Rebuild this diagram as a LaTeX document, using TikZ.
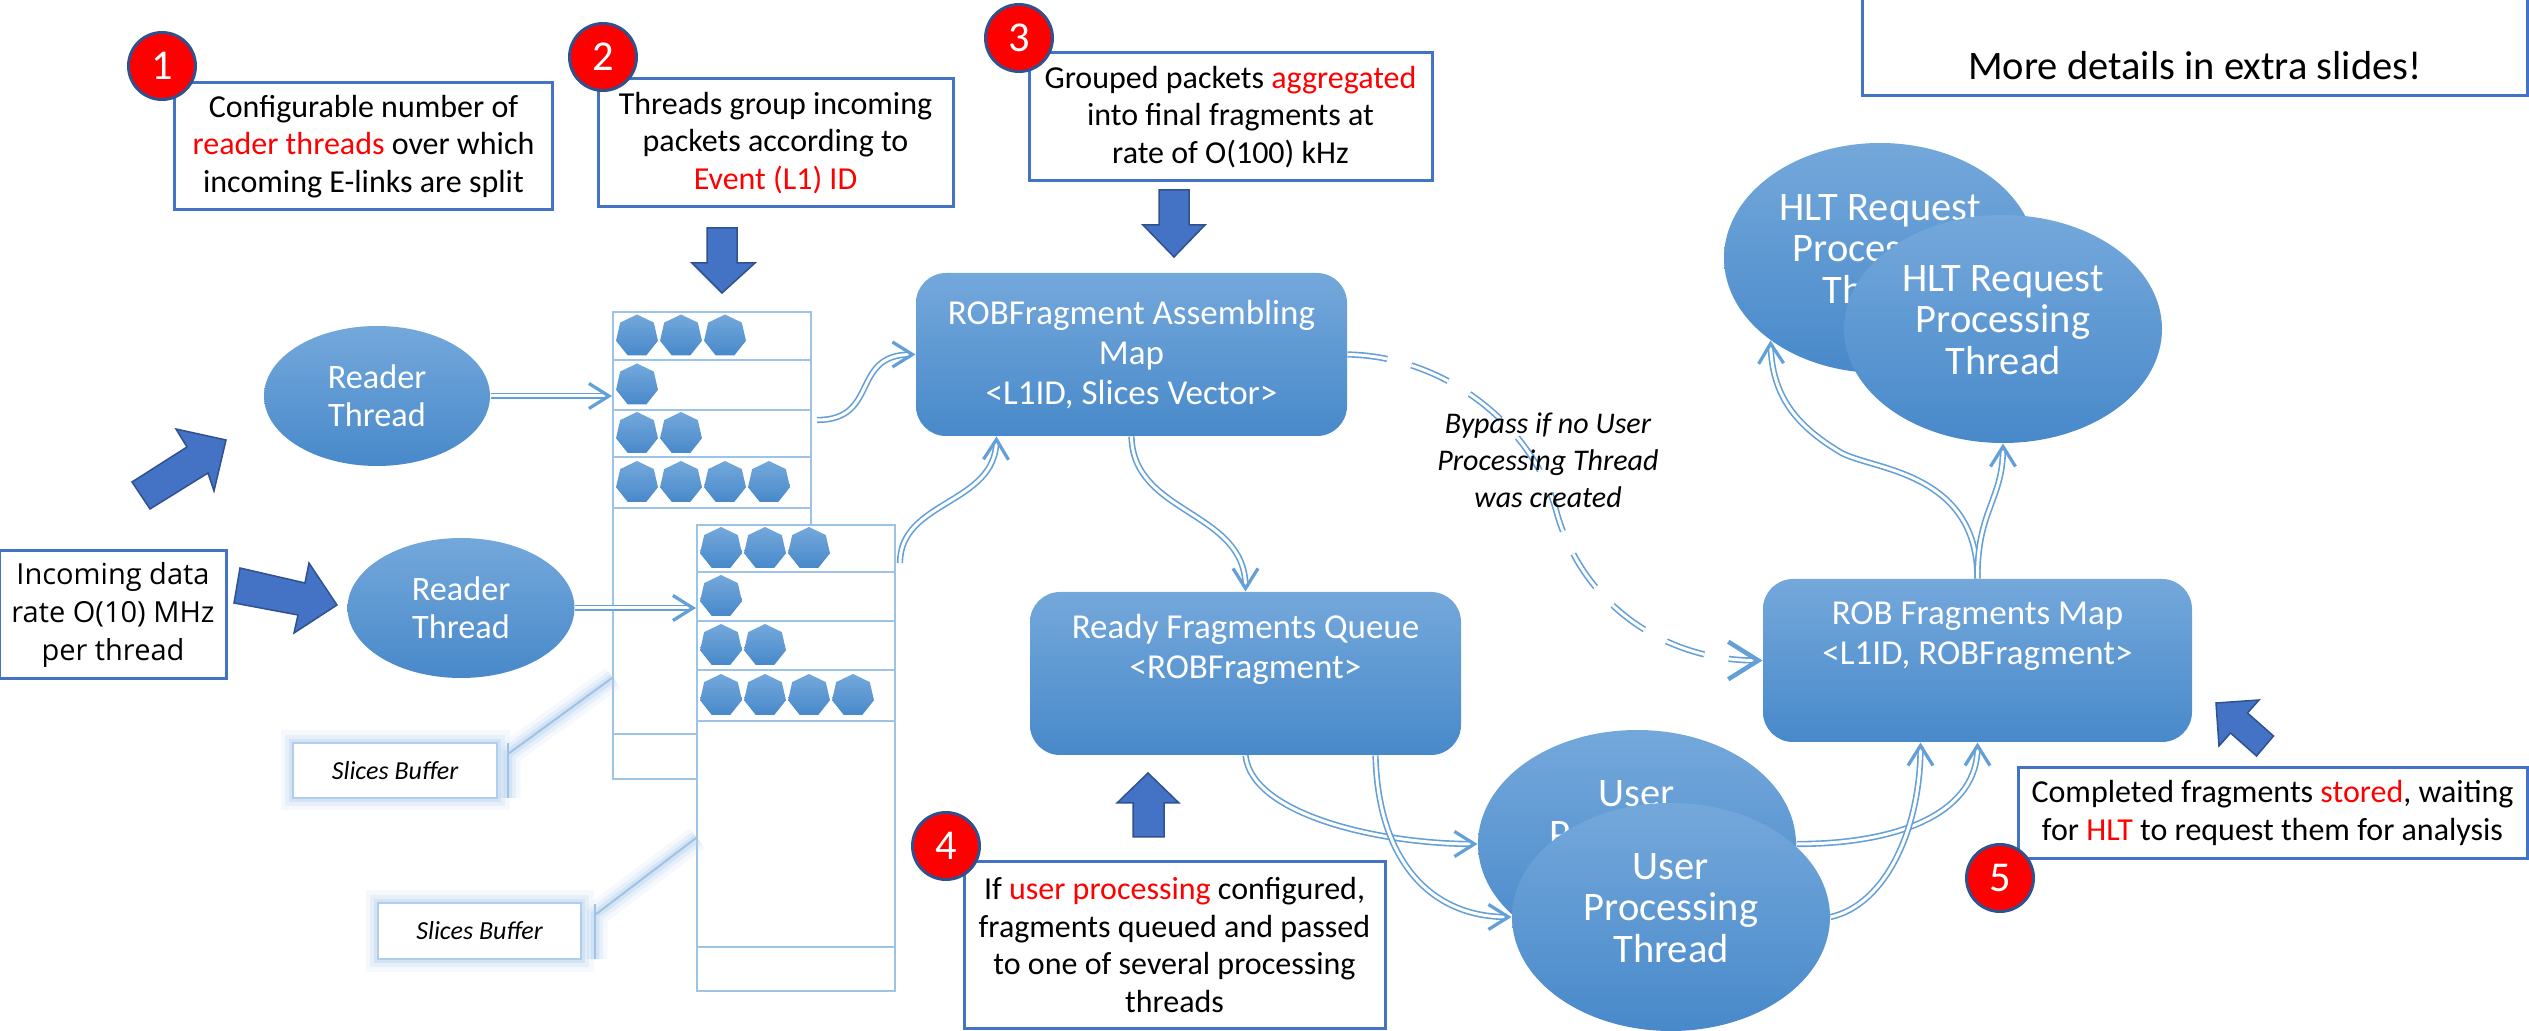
\documentclass[tikz,border=0pt]{standalone}
\usepackage{fontspec}
\setmainfont{Carlito}
\newfontfamily\segoefont{Open Sans}
\usetikzlibrary{shapes.geometric,arrows.meta,calc}

\definecolor{annoborder}{RGB}{68,114,196}
\definecolor{arrowfill}{RGB}{68,114,196}
\definecolor{arrowedge}{RGB}{47,82,143}
\definecolor{shtop}{RGB}{116,168,219}
\definecolor{shbot}{RGB}{72,137,202}
\definecolor{conn}{RGB}{100,160,216}
\definecolor{bufline}{RGB}{157,195,230}
\definecolor{glow}{RGB}{176,206,236}
\definecolor{hired}{RGB}{255,0,0}

\begin{document}
\begin{tikzpicture}[x=0.4pt,y=-0.4pt,
  annobox/.style={draw=annoborder, line width=1.2pt, fill=white, inner sep=0pt, align=center,
    font=\fontsize{12.8}{15.1}\selectfont},
  numdot/.style={circle, fill=hired, draw=arrowedge, line width=1.2pt, minimum size=26.8pt,
    inner sep=0pt, text=white, font=\fontsize{17}{17}\selectfont},
  blockarrow/.style={fill=arrowfill, draw=arrowedge, line width=0.6pt, line join=miter},
  bluebox/.style={rounded corners=12pt, top color=shtop, bottom color=shbot, draw=none,
    text=white, align=center, inner sep=0pt, font=\fontsize{14}{16}\selectfont},
  blueoval/.style={ellipse, top color=shtop, bottom color=shbot, draw=none, text=white,
    align=center, inner sep=0pt},
  bigoval/.style={blueoval, minimum width=127.2pt, minimum height=91.2pt, text depth=7.2pt,
    font=\fontsize{16.2}{16.7}\selectfont},
  heptagon/.style={regular polygon, regular polygon sides=7, minimum size=17.2pt, inner sep=0pt,
    top color=shtop, bottom color=shbot, draw=none},
  bufbox/.style={draw=bufline, line width=0.8pt, fill=white, inner sep=0pt},
  slicebox/.style={fill=white, draw=glow, line width=0.8pt, inner sep=0pt,
    font=\fontsize{10.4}{12}\selectfont\itshape},
  dconn/.style={draw=conn, line width=0.65pt, double=white, double distance=1.2pt},
  tip/.style={-{Straight Barb[length=8pt,width=10pt,line width=1.3pt]}},
  bigtip/.style={-{Straight Barb[length=12pt,width=15pt,line width=1.8pt]}}
]
\useasboundingbox (0,0) rectangle (2529,1031);

% ---------- slice buffers ----------
\node[bufbox, minimum width=79.2pt, minimum height=186.8pt] (ubuf) at (712,545.5) {};
\foreach \yy in {360,410,457,508,734} \draw[bufline, line width=0.8pt] (613,\yy) -- (811,\yy);
\foreach \n/\yy [count=\r] in {3/336,1/385,2/433.5,4/482.5}
  \foreach \k in {1,...,\n} \node[heptagon] (hu-\r-\k) at ({637+44*(\k-1)},\yy) {};

\node[bufbox, minimum width=79.2pt, minimum height=186.4pt] (lbuf) at (796,758) {};
\foreach \yy in {572,621,670,721,947} \draw[bufline, line width=0.8pt] (697,\yy) -- (895,\yy);
\foreach \n/\yy [count=\r] in {3/548.5,1/596.5,2/645.5,4/695.5}
  \foreach \k in {1,...,\n} \node[heptagon] (hl-\r-\k) at ({721+44*(\k-1)},\yy) {};

% ---------- "Slices Buffer" callouts ----------
\foreach \w/\o in {10pt/0.12,6.5pt/0.2,3.5pt/0.35}{
  \draw[glow, line width=\w, opacity=\o] (293,743) rectangle (497,798);
  \draw[glow, line width=\w, opacity=\o] (508,798) -- (508,754) -- (613,678);
  \draw[glow, line width=\w, opacity=\o] (378,903) rectangle (581,959);
  \draw[glow, line width=\w, opacity=\o] (595,959) -- (595,915) -- (697,838);
}
\node[slicebox, minimum width=81.6pt, minimum height=22pt] (sb1) at (395,770.5) {Slices Buffer};
\node[slicebox, minimum width=81.2pt, minimum height=22.4pt] (sb2) at (479.5,931) {Slices Buffer};
\draw[bufline, line width=0.8pt] (508,743) -- (508,798);
\draw[bufline, line width=0.8pt] (508,754) -- (ubuf.west |- 0,678);
\draw[bufline, line width=0.8pt] (595,904) -- (595,959);
\draw[bufline, line width=0.8pt] (595,915) -- (lbuf.west |- 0,838);

% ---------- processing nodes ----------
\node[blueoval, minimum width=90.4pt, minimum height=56pt, font=\fontsize{13.7}{15.2}\selectfont]
  (rd1) at (377,396) {Reader\\Thread};
\node[blueoval, minimum width=90.8pt, minimum height=56pt, font=\fontsize{13.7}{15.2}\selectfont]
  (rd2) at (461,608) {Reader\\Thread};

\node[bluebox, minimum width=172.4pt, minimum height=65.2pt] (ram) at (1131.5,354.5)
  {ROBFragment Assembling\\Map\\<L1ID, Slices Vector>};
\node[bluebox, minimum width=172.4pt, minimum height=65.2pt, text depth=22pt] (rfq) at (1245.5,673.5)
  {Ready Fragments Queue\\<ROBFragment>};
\node[bluebox, minimum width=171.6pt, minimum height=65.2pt, text depth=22pt] (rfm) at (1977.5,660.5)
  {ROB Fragments Map\\<L1ID, ROBFragment>};

\node[bigoval, minimum width=124.8pt, minimum height=92pt] (hb) at (1880,258) {HLT Request\\Processing\\Thread};
\node[bigoval] (hf) at (2003,329) {HLT Request\\Processing\\Thread};

\node[bigoval] (ub) at (1637,844) {User\\Processing\\Thread};
\node[bigoval] (uf) at (1671,917) {User\\Processing\\Thread};

% ---------- connectors ----------
\draw[dconn, tip] (rd1.east) -- (rd1.east -| ubuf.west);
\draw[dconn, tip] (rd2.east) -- (rd2.east -| lbuf.west);
\draw[dconn, tip] ($(ubuf.east)+(5,-125.5)$) .. controls (880,420) and (850,354.5) .. (ram.west);
\draw[dconn, tip] ($(lbuf.east)+(4,-195)$) .. controls (900,500) and (995,505) .. ($(ram.south west)+(81,0)$);
\draw[dconn, tip] (ram.south) .. controls (1133,515) and (1245.5,510) .. (rfq.north);
\draw[dconn, bigtip, dash pattern=on 16pt off 10pt]
  (ram.east) .. controls (1440,356) and (1530,420) .. (1556,510)
  .. controls (1580,600) and (1660,660.5) .. (rfm.west);
\draw[dconn, tip] (rfq.south) .. controls (1252,815) and (1380,844) .. (ub.west);
\draw[dconn, tip] ($(rfq.south)+(130,0)$) .. controls (1378,860) and (1430,917) .. (uf.west);
\draw[dconn, tip] (ub.east) .. controls (1905,844) and (1977.5,810) .. (rfm.south);
\draw[dconn, tip] (uf.east) .. controls (1885,905) and (1920.5,830) .. ($(rfm.south)+(-57,0)$);
\draw[dconn, tip] (rfm.north) .. controls (1977,470) and (1870,470) .. (1840,452)
  .. controls (1795,425) and (1772,395) .. (hb.217);
\draw[dconn, tip] (rfm.north) .. controls (1977,510) and (2003,500) .. (hf.south);

\node[font=\fontsize{12}{14.8}\selectfont\itshape, align=center] (bypass) at (1548,460)
  {Bypass if no User\\Processing Thread\\was created};

% ---------- block arrows ----------
\draw[blockarrow] (707,228) -- (737,228) -- (737,263) -- (755,263) -- (722,293) -- (692,263) -- (707,263) -- cycle;
\draw[blockarrow] (1159,190) -- (1189,190) -- (1189,225) -- (1205,225) -- (1174,257) -- (1143,225) -- (1159,225) -- cycle;
\draw[blockarrow] (1133,837) -- (1164,837) -- (1164,803) -- (1179,803) -- (1148,773) -- (1117,803) -- (1133,803) -- cycle;
\draw[blockarrow] (132,482) -- (187,447) -- (176,429) -- (226,440) -- (214,491) -- (208,473) -- (150,509) -- cycle;
\draw[blockarrow] (240,568) -- (305,583) -- (309,563) -- (337,605) -- (294,633) -- (298,615) -- (234,603) -- cycle;
\draw[blockarrow] (2216,703) -- (2259,700) -- (2247.5,713) -- (2273.5,736) -- (2256.5,756) -- (2230.5,733) -- (2219,746) -- cycle;

% ---------- annotations ----------
\node[annobox, minimum width=150.8pt, minimum height=50.8pt] (a1) at (363.5,146.5)
  {Configurable number of\\\textcolor{hired}{reader threads} over which\\incoming E-links are split};
\node[numdot] (n1) at (162,66) {1};

\node[annobox, minimum width=142pt, minimum height=51.2pt] (a2) at (775.5,143)
  {Threads group incoming\\packets according to\\\textcolor{hired}{Event (L1) ID}};
\node[numdot] (n2) at (603,57) {2};

\node[annobox, minimum width=161.2pt, minimum height=51.2pt] (a3) at (1230.5,117)
  {Grouped packets \textcolor{hired}{aggregated}\\into final fragments at\\rate of O(100) kHz};
\node[numdot] (n3) at (1019,38) {3};

\node[annobox, minimum width=168.4pt, minimum height=66.4pt] (a4) at (1174.5,945)
  {If \textcolor{hired}{user processing} configured,\\fragments queued and passed\\to one of several processing\\threads};
\node[numdot] (n4) at (946,846) {4};

\node[annobox, minimum width=203.6pt, minimum height=36pt] (a5) at (2272.5,813)
  {Completed fragments \textcolor{hired}{stored}, waiting\\for \textcolor{hired}{HLT} to request them for analysis};
\node[numdot] (n5) at (2000,878) {5};

\node[annobox, minimum width=90.4pt, minimum height=51.2pt, font=\segoefont\fontsize{11.6}{15.2}\selectfont]
  (inc) at (113,615) {Incoming data\\rate O(10) MHz\\per thread};

\draw[annoborder, line width=1.2pt, fill=white] (1862,-10) rectangle (2527,96);
\node[font=\fontsize{16.2}{18}\selectfont] (more) at (2195,66) {More details in extra slides!};

\end{tikzpicture}
\end{document}
